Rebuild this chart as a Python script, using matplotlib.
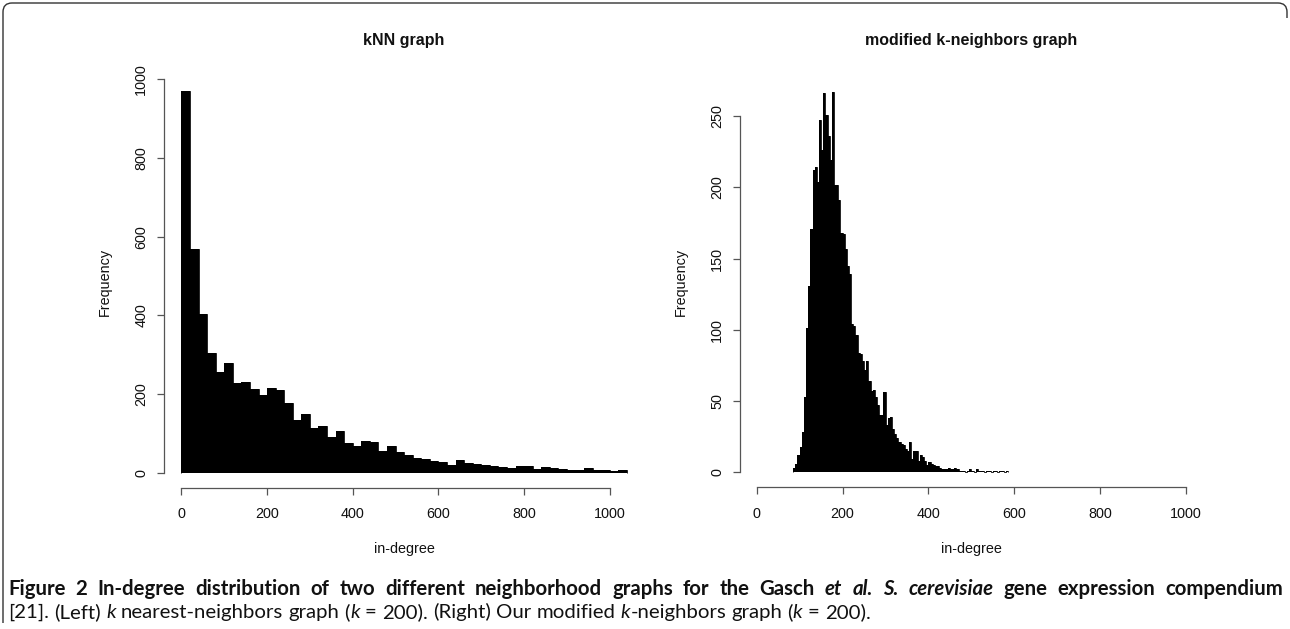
import matplotlib
matplotlib.use("Agg")
import matplotlib.pyplot as plt
from matplotlib.path import Path
from matplotlib.patches import PathPatch

# ---------------- data ----------------
knn_title = "kNN graph"
mod_title = "modified k-neighbors graph"
x_label = "in-degree"
y_label = "Frequency"

knn_bin_width = 20
knn_first_edge = 0
knn_counts = [970, 568, 403, 305, 255, 278, 227, 230, 213, 198,
              216, 210, 176, 134, 149, 114, 120, 92, 106, 75,
              69, 81, 77, 56, 68, 53, 44, 37, 34, 31,
              28, 20, 32, 24, 22, 19, 18, 15, 11, 17,
              16, 9, 14, 11, 10, 8, 8, 11, 8, 7,
              5, 6]

mod_bin_width = 5
mod_first_edge = 85
mod_counts = [3, 6, 12, 18, 28, 53, 101, 131, 171, 212,
              214, 204, 247, 226, 266, 251, 236, 219, 267, 202,
              202, 191, 168, 167, 157, 145, 139, 104, 103, 96,
              84, 83, 78, 72, 78, 64, 57, 58, 53, 47,
              40, 40, 56, 33, 38, 39, 30, 27, 24, 21,
              20, 19, 16, 15, 21, 9, 15, 15, 8, 12,
              11, 8, 5, 7, 6, 5, 4, 4, 3, 2,
              2, 2, 3, 2, 2, 3, 2, 1, 1, 1,
              0, 1, 2, 1, 0, 2, 1, 1, 1, 0,
              1, 1, 0, 1, 1, 0, 1, 1, 0, 1]

x_ticks = [0, 200, 400, 600, 800, 1000]
knn_y_ticks = [0, 200, 400, 600, 800, 1000]
mod_y_ticks = [0, 50, 100, 150, 200, 250]

# ---------------- figure ----------------
plt.rcParams["font.family"] = ["Liberation Sans", "DejaVu Sans"]
W, H = 1290, 629
fig = plt.figure(figsize=(W / 100, H / 100), dpi=100)


def fx(x):
    return x / W


def fy(y):
    return 1 - y / H


def make_axes(l, r, t, b):
    return fig.add_axes([fx(l), fy(b), fx(r) - fx(l), fy(t) - fy(b)])


AX_COL = "#555555"


def draw_hist(ax, counts, first, width, xlim, ylim, yticks):
    edges = [first + i * width for i in range(len(counts) + 1)]
    ax.stairs(counts, edges, fill=True, color="black", lw=0)
    ax.stairs(counts, edges, fill=False, baseline=0, color="black", lw=0.6)
    ax.set_xlim(*xlim)
    ax.set_ylim(*ylim)
    for s in ["top", "right"]:
        ax.spines[s].set_visible(False)
    for s in ["left", "bottom"]:
        ax.spines[s].set_color(AX_COL)
        ax.spines[s].set_linewidth(0.9)
    ax.set_xticks(x_ticks)
    ax.set_yticks(yticks)
    ax.spines["bottom"].set_bounds(x_ticks[0], x_ticks[-1])
    ax.spines["left"].set_bounds(yticks[0], yticks[-1])
    ax.tick_params(direction="out", length=5, width=0.9, color=AX_COL,
                   labelsize=10.4, labelcolor="#111111")
    ax.tick_params(axis="x", pad=9.0)
    ax.tick_params(axis="y", pad=6.0, labelrotation=90)
    for lab in ax.get_yticklabels():
        lab.set_va("center")
    ax.patch.set_alpha(0)


# left panel
axL = make_axes(163.6, 644.7, 75.8, 488.0)
draw_hist(axL, knn_counts, knn_first_edge, knn_bin_width,
          (-41.6, 1081.6), (-38.8, 1008.8), knn_y_ticks)

# right panel
axR = make_axes(739.5, 1203.4, 76.8, 487.4)
draw_hist(axR, mod_counts, mod_first_edge, mod_bin_width,
          (-40, 1040), (-10.68, 277.68), mod_y_ticks)

# titles and axis labels
for cx, title in [((163.6 + 644.7) / 2, knn_title), ((739.5 + 1203.4) / 2, mod_title)]:
    fig.text(fx(cx), fy(40), title, ha="center", va="center",
             fontweight="bold", fontsize=11.5, color="#111111")
    fig.text(fx(cx), fy(549), x_label, ha="center", va="center",
             fontsize=10.4, color="#111111")
for lx in [105, 681]:
    fig.text(fx(lx), fy(282), y_label, ha="center", va="center",
             rotation=90, fontsize=10.4, color="#111111")

# ---------------- frame ----------------
pts = [(3, 623), (3, 12), (3, 3), (12, 3), (1278, 3), (1287, 3), (1287, 12), (1287, 18)]
codes = [Path.MOVETO, Path.LINETO, Path.CURVE3, Path.CURVE3, Path.LINETO,
         Path.CURVE3, Path.CURVE3, Path.LINETO]
frame = Path([(fx(x), fy(y)) for x, y in pts], codes)
fig.patches.append(PathPatch(frame, transform=fig.transFigure, fill=False,
                             edgecolor="#333333", lw=1.0))

# ---------------- caption ----------------
CAP_FONT = ["Lato", "Open Sans", "DejaVu Sans"]
line1 = [("Figure", "bold", "normal", True), ("2", "bold", "normal", True),
         ("In-degree", "bold", "normal", True), ("distribution", "bold", "normal", True),
         ("of", "bold", "normal", True), ("two", "bold", "normal", True),
         ("different", "bold", "normal", True), ("neighborhood", "bold", "normal", True),
         ("graphs", "bold", "normal", True), ("for", "bold", "normal", True),
         ("the", "bold", "normal", True), ("Gasch", "bold", "normal", True),
         ("et", "bold", "italic", True), ("al.", "bold", "italic", True),
         ("S.", "bold", "italic", True), ("cerevisiae", "bold", "italic", True),
         ("gene", "bold", "normal", True), ("expression", "bold", "normal", True),
         ("compendium", "bold", "normal", True)]
line2 = [("[21].", "normal", "normal", True), ("(Left)", "normal", "normal", True),
         ("k", "normal", "italic", True), ("nearest-neighbors", "normal", "normal", True),
         ("graph", "normal", "normal", True), ("(", "normal", "normal", True),
         ("k", "normal", "italic", False), ("=", "normal", "normal", True),
         ("200).", "normal", "normal", True), ("(Right)", "normal", "normal", True),
         ("Our", "normal", "normal", True), ("modified", "normal", "normal", True),
         ("k", "normal", "italic", True), ("-neighbors", "normal", "normal", False),
         ("graph", "normal", "normal", True), ("(", "normal", "normal", True),
         ("k", "normal", "italic", False), ("=", "normal", "normal", True),
         ("200).", "normal", "normal", True)]

renderer = fig.canvas.get_renderer()


def width_of(s, weight, style, size):
    t = fig.text(0, 0, s, fontsize=size, fontweight=weight, fontstyle=style,
                 family=CAP_FONT)
    w = t.get_window_extent(renderer=renderer).width
    t.remove()
    return w


def natural_width(tokens, size):
    total = 0
    for i, (s, wgt, sty, sp) in enumerate(tokens):
        if i > 0 and sp:
            total += width_of("a a", wgt, "normal", size) - width_of("aa", wgt, "normal", size)
        total += width_of(s, wgt, sty, size)
    return total


def place(tokens, x0, ybase, size, target_right=None):
    widths = [width_of(s, w, st, size) for s, w, st, sp in tokens]
    space = width_of("a a", tokens[0][1], "normal", size) - width_of("aa", tokens[0][1], "normal", size)
    nsp = sum(1 for i, tk in enumerate(tokens) if i > 0 and tk[3])
    if target_right is not None and nsp > 0:
        space = (target_right - x0 - sum(widths)) / nsp
    x = x0
    for i, ((s, wgt, sty, sp), w) in enumerate(zip(tokens, widths)):
        if i > 0 and sp:
            x += space
        fig.text(fx(x), fy(ybase), s, fontsize=size, fontweight=wgt, fontstyle=sty,
                 family=CAP_FONT, ha="left", va="baseline", color="#111111")
        x += w


base = 10.0
size = base * 860.0 / natural_width(line2, base)
n1 = natural_width(line1, size)
if n1 > 1274:
    size *= 1270.0 / n1
place(line1, 8, 595, size, target_right=1283)
place(line2, 8, 618, size)

fig.savefig("out.png", dpi=100)
